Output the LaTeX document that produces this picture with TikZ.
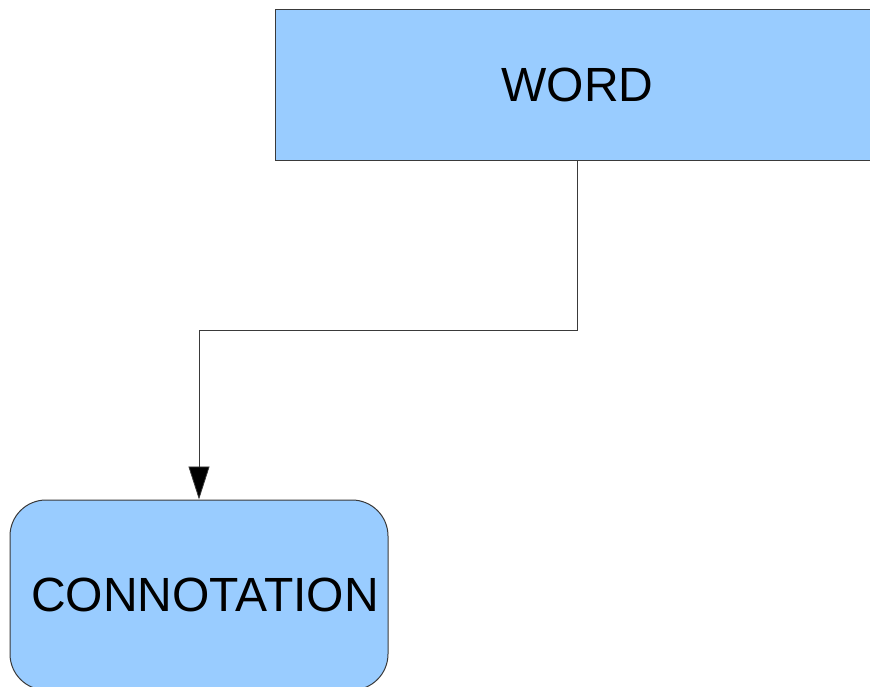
\documentclass[tikz,border=0pt]{standalone}
\usepackage{fontspec}
\setmainfont{Liberation Sans}
\usetikzlibrary{arrows.meta}
\definecolor{boxfill}{HTML}{99CCFF}
\definecolor{boxline}{HTML}{3A3A3A}
\tikzset{
  box/.style={draw=boxline, line width=1pt, fill=boxfill, inner sep=0pt, font=\fontsize{48}{57}\selectfont},
  conn/.style={draw=boxline, line width=0.8pt, -{Triangle[length=33pt,width=21pt,fill=black]}}
}
\begin{document}
\begin{tikzpicture}[x=1pt,y=-1pt]
\useasboundingbox (0,0) rectangle (870,686);
\node[box, rectangle, minimum width=605pt, minimum height=151pt] (word) at (577.5,84.5) {WORD};
\node[box, rectangle, rounded corners=36pt, minimum width=378pt, minimum height=190pt] (cn) at (199,595) {\hspace*{12pt}CONNOTATION};
\draw[conn] (word.south) -- ++(0,170) -| (cn.north);
\end{tikzpicture}
\end{document}
